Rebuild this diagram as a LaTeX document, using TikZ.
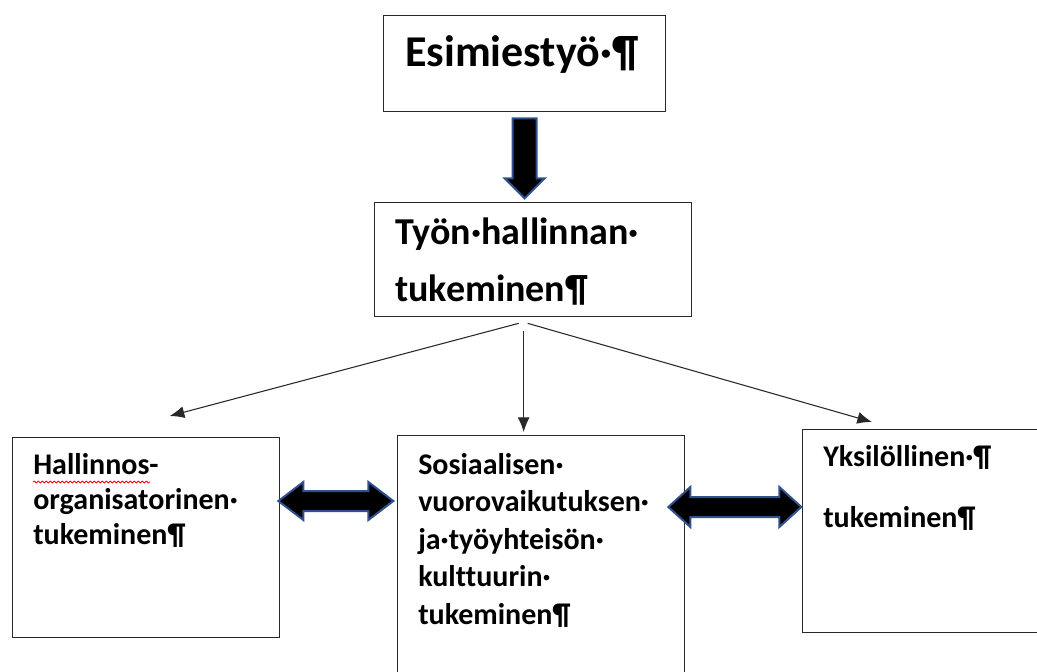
\documentclass[tikz,border=0pt]{standalone}
\usepackage{fontspec}
\setmainfont{Carlito}[Ligatures=NoCommon]
\usepackage{tikz}
\usetikzlibrary{
  arrows.meta,
  calc,
  decorations.pathmorphing
}
\definecolor{arrowblue}{RGB}{47,82,143}
\definecolor{boxline}{RGB}{40,40,40}
\tikzset{
  box/.style={draw=boxline, line width=1pt, anchor=north west,
    inner sep=0pt},
  toptext/.style={anchor=north west, inner sep=0pt, align=left,
    font=\fontsize{33}{40}\selectfont\bfseries},
  midtext/.style={anchor=north west, inner sep=0pt, align=left,
    font=\fontsize{28.5}{42.75}\selectfont\bfseries},
  lowtext/.style={anchor=north west, inner sep=0pt, align=left,
    font=\fontsize{22.5}{26.25}\selectfont\bfseries},
  arr/.style={-{Latex[length=11pt, width=9pt]}, line width=0.8pt, boxline},
  fatarrow/.style={fill=black, draw=arrowblue, line width=1.5pt,
    line join=miter},
  spell/.style={red, line width=0.6pt, decorate,
    decoration={snake, amplitude=0.7pt, segment length=3pt}},
}

\begin{document}
\begin{tikzpicture}[x=0.75pt, y=-0.75pt]
  \clip (0,0) rectangle (1037,671);

  % Boxes
  \node[box, minimum width=211.5pt, minimum height=72pt] (top) at (383,15) {};
  \node[box, minimum width=237.75pt, minimum height=85.5pt] (mid) at (374,202) {};
  \node[box, minimum width=200.25pt, minimum height=150pt] (lbox) at (12,437) {};
  \node[box, minimum width=215.25pt, minimum height=198.75pt] (cbox) at (397,435) {};
  \node[box, minimum width=193.5pt, minimum height=152.25pt] (rbox) at (802,429) {};

  % Texts
  \node[toptext] (toplbl) at ($(top.north west)+(22,20)$) {Esimiestyö·¶};
  \node[midtext] (midlbl) at ($(mid.north west)+(21,16)$)
    {Työn·hallinnan·\\tukeminen¶};
  \node[lowtext] (llbl) at ($(lbox.north west)+(21,16)$)
    {Hallinnos-\\organisatorinen·\\tukeminen¶};
  \node[lowtext, font=\fontsize{22.5}{28.1}\selectfont\bfseries] (clbl)
    at ($(cbox.north west)+(21,18)$)
    {Sosiaalisen·\\vuorovaikutuksen·\\ja·työyhteisön·\\kulttuurin·\\tukeminen¶};
  \node[lowtext] (rlbl) at ($(rbox.north west)+(21,16)$)
    {Yksilöllinen·¶\\[19.5pt]tukeminen¶};
  \draw[spell] ($(lbox.north west)+(21,45)$) -- ($(lbox.north west)+(138,45)$);

  % Fat arrows
  \draw[fatarrow] ($(top.south)+(-12,6)$) -- ++(24,0) -- ++(0,60) -- ++(8,0)
    -- ++(-20,20) -- ++(-20,-20) -- ++(8,0) -- cycle;
  \draw[fatarrow] ($(lbox.north east)+(-2,64)$) -- ++(25,-19) -- ++(0,9)
    -- ++(65,0) -- ++(0,-9) -- ++(25,19) -- ++(-25,19) -- ++(0,-9)
    -- ++(-65,0) -- ++(0,9) -- cycle;
  \draw[fatarrow] ($(cbox.north east)+(-17,72)$) -- ++(22,-20) -- ++(0,10)
    -- ++(89,0) -- ++(0,-10) -- ++(22,20) -- ++(-22,20) -- ++(0,-10)
    -- ++(-89,0) -- ++(0,10) -- cycle;

  % Thin arrows
  \draw[arr] ($(mid.south)+(-14.5,6)$) -- ($(lbox.north)+(23.5,-21)$);
  \draw[arr] ($(mid.south)+(-9.5,14)$) -- ($(cbox.north)+(-17.5,-3)$);
  \draw[arr] ($(mid.south)+(-5.5,6)$) -- ($(rbox.north west)+(70,-7)$);
\end{tikzpicture}
\end{document}
